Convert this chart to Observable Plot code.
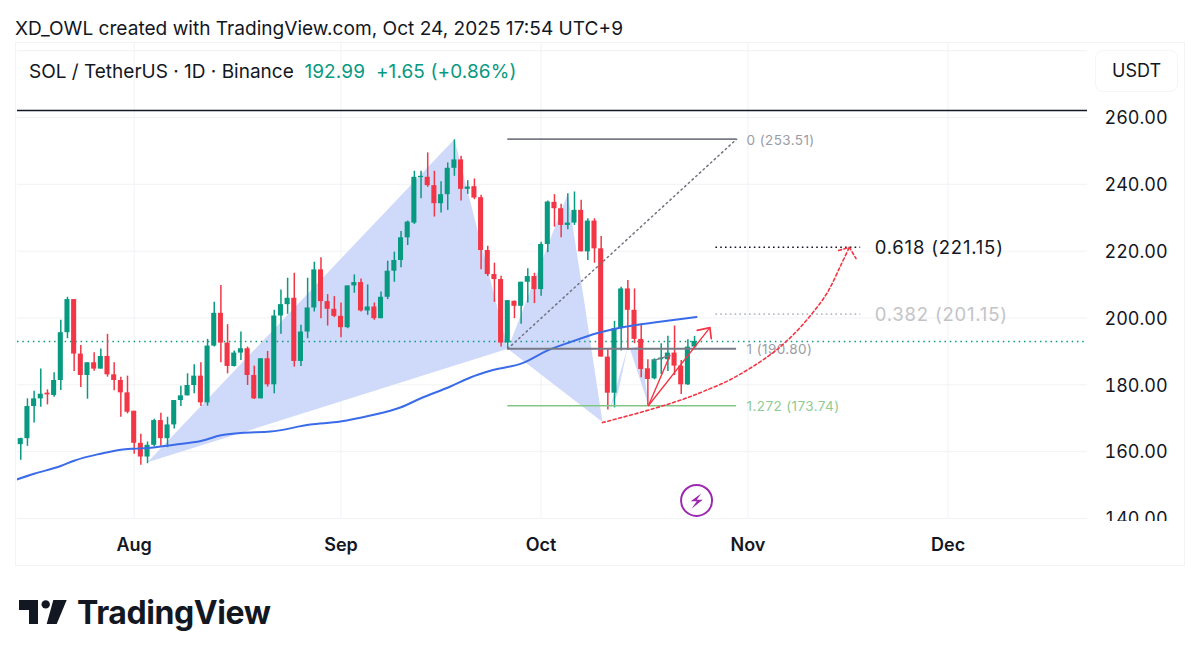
<!DOCTYPE html>
<html><head><meta charset="utf-8">
<script src="https://cdn.jsdelivr.net/npm/d3@7"></script>
<script src="https://cdn.jsdelivr.net/npm/@observablehq/plot@0.6"></script>
<style>
html,body{margin:0;padding:0;background:#fff;overflow:hidden}
#page{position:relative;width:1200px;height:661px;font-family:Inter,sans-serif;color:#131722}
#page>*{position:absolute}
#title{left:15px;top:16px;font-size:19.1px;line-height:24px;white-space:nowrap}
#frame{left:15px;top:42px;width:1168px;height:522px;border:1px solid #f3f4f6}
#chart{left:0;top:42px}
#legend{left:29px;top:60px;font-size:19px;line-height:24px;white-space:nowrap}
#legend span{color:#089981;letter-spacing:.1px}
#usdt{left:1095px;top:50px;width:81px;height:40px;line-height:40px;text-align:center;font-size:18px;border:1px solid #f5f6f8;border-radius:8px;background:#fff}
#mask{left:1090px;top:521px;width:92px;height:12px;background:#fff}
#brand{left:77px;top:592px;font-size:32px;font-weight:700;line-height:42px;letter-spacing:-.42px;white-space:nowrap}
#logo{left:19px;top:600px}
</style></head><body>
<div id="page">
  <div id="frame"></div>
  <div id="chart"></div>
  <div id="mask"></div>
  <div id="title">XD_OWL created with TradingView.com, Oct 24, 2025 17:54 UTC+9</div>
  <div id="legend">SOL / TetherUS · 1D · Binance &nbsp;<span>192.99 &nbsp;+1.65 (+0.86%)</span></div>
  <div id="usdt">USDT</div>
  <svg id="logo" width="48" height="24" viewBox="0 0 48 24"><path fill="#131722" d="M0 0H19V24H10V10H0Z"/><circle cx="26.7" cy="4.4" r="4.2" fill="#131722"/><path fill="#131722" d="M34.3 0H47.7L37.7 24H27.7Z"/></svg>
  <div id="brand">TradingView</div>
</div>
<script>
// Daily candles from Jul 15 2025 to Oct 24 2025
const opens=[162.1,163.9,173.5,175.8,177.5,176.8,181.3,195.6,205.5,189.2,182.8,186.6,184.7,188.5,183.0,181.3,177.6,172.1,162.5,158.4,161.9,169.3,163.9,168.0,175.3,176.7,179.8,182.6,174.6,191.6,201.4,192.5,185.5,189.5,190.8,182.8,175.8,187.8,180.0,200.6,204.0,205.9,187.0,195.8,203.0,214.4,204.9,202.6,200.5,197.1,209.6,210.6,202.1,203.3,199.8,206.2,214.0,217.2,224.0,228.4,242.0,242.1,239.6,234.2,236.9,244.8,247.3,238.5,239.3,236.0,220.2,213.0,211.5,192.5,205.0,203.5,210.7,212.4,208.5,222.0,234.6,232.7,227.7,228.4,232.2,219.8,229.0,220.7,188.3,177.5,196.8,208.7,202.3,193.6,184.8,181.8,187.5,187.5,189.5,185.6,180.0,191.3];
const highs=[164.0,175.8,178.1,184.7,178.5,183.6,199.3,206.2,205.5,191.8,186.6,189.6,190.7,195.1,186.6,182.3,182.6,172.1,165.2,162.9,169.7,171.5,170.3,175.3,179.6,183.3,186.0,186.6,193.6,204.7,209.7,198.0,190.1,195.8,191.3,185.6,187.8,190.0,202.3,208.4,211.9,213.4,197.8,211.9,216.7,218.0,207.0,206.4,204.5,209.6,212.9,211.7,209.9,204.5,207.8,217.0,219.7,225.9,229.0,243.9,243.9,249.4,243.9,240.8,246.4,253.3,248.4,241.1,241.6,236.7,221.5,216.4,212.5,205.2,205.1,210.7,214.7,213.4,222.7,235.0,236.9,234.0,237.2,237.7,235.2,229.7,229.7,224.4,190.8,199.0,209.2,211.2,208.7,198.1,187.5,187.8,192.3,194.5,197.6,187.3,193.5,194.5];
const lows=[157.4,161.6,168.6,173.3,174.0,176.3,178.3,193.8,184.0,179.2,175.7,184.1,184.7,182.3,178.2,170.3,171.3,159.2,155.9,156.4,161.4,161.6,161.2,166.8,173.5,176.7,177.3,173.5,173.6,191.3,186.6,183.3,185.3,187.3,179.8,175.6,175.8,179.3,177.3,195.1,201.1,185.3,185.5,193.8,201.8,199.8,197.6,200.1,194.1,196.8,207.4,201.8,200.8,199.3,199.8,205.5,210.7,215.0,221.7,228.0,235.7,239.1,230.2,231.4,232.2,242.4,235.0,237.0,235.4,214.4,212.4,204.7,191.3,190.5,199.8,198.1,204.5,204.3,206.5,219.5,227.2,224.0,226.4,227.7,219.8,217.2,216.4,188.3,172.5,173.1,190.1,190.3,192.3,182.1,173.8,181.5,183.1,184.0,182.8,177.1,179.8,190.5];
const closes=[163.9,173.5,175.8,177.2,177.0,181.3,195.6,205.5,189.2,182.8,186.6,184.7,188.5,183.0,181.3,177.6,171.8,162.5,158.4,161.9,169.3,163.9,168.0,175.3,176.7,179.8,182.6,174.6,191.6,201.4,192.5,185.5,189.5,190.8,182.8,175.8,187.8,180.0,200.6,204.0,205.9,187.0,195.8,203.0,214.4,204.9,202.6,200.5,197.1,209.6,210.6,202.1,203.3,199.8,206.2,214.0,217.2,224.0,228.7,242.1,242.4,239.6,234.2,236.9,244.8,247.3,238.5,239.2,235.9,220.2,213.0,211.5,192.5,205.2,203.5,210.7,212.4,208.5,222.0,234.7,232.7,227.7,228.4,232.2,219.8,229.0,220.7,188.3,177.5,196.8,208.7,202.3,193.6,184.6,181.6,187.5,188.0,189.5,185.6,180.0,191.3,192.99];

// Moving average (day index from Jul 15, value)
const maDays=[-1,2,6,8,12,15,17,19,23,27,30,33,37.4,43.4,47.9,52.4,56.9,59.9,64.4,67.4,70.4,75.2,79,82.4,86.5,90.4,95.5,101.3];
const maValues=[151.4,153.4,155.7,157.3,159.4,160.6,160.9,161.1,162.1,163.2,164.9,165.6,166.0,168.1,169.0,170.8,173.2,175.9,179.5,182.2,184.2,186.5,190.3,192.8,195.5,197.3,198.8,200.3];

// Harmonic pattern fills: [day index, price]
const patternXAB=[[19,156.8],[65,253.51],[73,190.8]];
const patternBCD=[[73,190.8],[82,237.2],[87.2,168.9]];
const wedgeLeft=[[88.3,172.9],[91,191.5],[89.5,177.4]];
const wedgeRight=[[91.3,190.9],[92.9,191.8],[94.1,173.8]];

// Drawings
const fibLevels=[
 {name:"0 (253.51)",price:253.51,color:"#787B86",lab:"#9a9da6",w:1.7},
 {name:"1 (190.80)",price:190.8,color:"#787B86",lab:"#9a9da6",w:1.9},
 {name:"1.272 (173.74)",price:173.74,color:"#81C784",lab:"#8fcb92",w:1.5}];
const extLevels=[
 {name:"0.618 (221.15)",price:221.15,color:"#131722",lab:"#131722"},
 {name:"0.382 (201.15)",price:201.15,color:"#b8bac0",lab:"#c3c4c8"}];
const fibDiagonal=[[73,190.8],[107.3,253.51]];
const curvePath=[[87.2,168.7],[94.9,172.9],[100.4,176.5],[102.4,178.1],[106.4,181.6],[112,188.5],[115.4,194.2],[118.4,200.8],[120.9,207.6],[122.9,215.7],[124.2,221.15]];
const curveHead=[[122.6,220.2],[124.2,221.15],[125.2,217.8]];
const redRay1=[[94.1,173.8],[97.3,188.8]];
const redRay2=[[94.1,173.8],[103.3,197.1]];
const redHead=[[101.4,196.3],[103.3,197.1],[103.5,193.8]];
const graySeg=[[94.9,187.3],[97.3,188.8]];
const topLine=262.1, lastPrice=192.99;
const boltAt=[[101.3,145.4]];

const gridTicks=[140,160,180,200,220,240,260,280];
const priceTicks=[140,160,180,200,220,240,260];
const monthTicks=[[2025,7],[2025,8],[2025,9],[2025,10],[2025,11]].map(([y,m])=>new Date(Date.UTC(y,m,1)));

const day=i=>new Date(Date.UTC(2025,6,15)+i*864e5);
const GREEN="#089981",RED="#F23645",GRID="#f1f2f5",PURPLE="#9C27B0";
const candles=opens.map((o,i)=>({date:day(i),x1:day(i-0.38),x2:day(i+0.38),open:o,high:highs[i],low:lows[i],close:closes[i],color:closes[i]>=o?GREEN:RED}));
const ma=maDays.map((d,i)=>({date:day(d),v:maValues[i]}));
const pts=a=>a.map(([d,v])=>({date:day(d),v}));
const seg=(a,o)=>Plot.line(pts(a),{x:"date",y:"v",...o});
const fill=a=>seg(a,{fill:"#cfdafb",stroke:"none"});
const bolt={draw(c,size){const s=Math.sqrt(size/Math.PI)/10;
  [[4.6,-7],[-5.8,.8],[.2,.8],[-5,8.4],[6.2,-.8],[.2,-.8]].forEach(([x,y],i)=>i?c.lineTo(x*s,y*s):c.moveTo(x*s,y*s));c.closePath();}};

const chart=Plot.plot({
  width:1200,height:522,
  marginLeft:17,marginRight:113,marginTop:0,marginBottom:46,
  style:{fontFamily:"Inter,sans-serif",color:"#131722",background:"transparent",overflow:"visible"},
  x:{type:"utc",domain:[day(-0.49),day(159.9)],label:null},
  y:{type:"linear",domain:[140,282.44],label:null},
  color:{type:"identity"},
  marks:[
    Plot.ruleY(gridTicks,{stroke:GRID,strokeWidth:1}),
    Plot.ruleX(monthTicks,{stroke:GRID,strokeWidth:1}),
    fill(patternXAB),fill(patternBCD),fill(wedgeLeft),fill(wedgeRight),
    Plot.ruleY([lastPrice],{stroke:"#0a9a80",strokeWidth:1.5,strokeDasharray:"1.5 3.8"}),
    Plot.ruleX(candles,{x:"date",y1:"low",y2:"high",stroke:"color",strokeWidth:1.5}),
    Plot.rect(candles,{x1:"x1",x2:"x2",y1:"open",y2:"close",fill:"color"}),
    Plot.line(ma,{x:"date",y:"v",stroke:"#3A6BE8",strokeWidth:2,curve:"monotone-x",clip:true}),
    Plot.ruleY([topLine],{stroke:"#131722",strokeWidth:1.5}),
    Plot.ruleY(fibLevels,{y:"price",x1:day(73),x2:day(107.3),stroke:"color",strokeWidth:"w"}),
    seg(fibDiagonal,{stroke:"#70737e",strokeWidth:1.5,strokeDasharray:"1.5 3.5"}),
    Plot.text(fibLevels,{x:day(108.8),y:"price",text:"name",fill:"lab",textAnchor:"start",fontSize:13.5,dy:1}),
    Plot.ruleY(extLevels,{y:"price",x1:day(104.2),x2:day(125.9),stroke:"color",strokeWidth:1.6,strokeDasharray:"1.6 3.2"}),
    Plot.text(extLevels,{x:day(128),y:"price",text:"name",fill:"lab",textAnchor:"start",fontSize:18.5,dy:1}),
    seg(graySeg,{stroke:"#787B86",strokeWidth:1.2}),
    seg(redRay1,{stroke:RED,strokeWidth:1.4}),
    seg(redRay2,{stroke:RED,strokeWidth:1.4}),
    seg(redHead,{stroke:RED,strokeWidth:1.7}),
    seg(curvePath,{stroke:RED,strokeWidth:1.6,strokeDasharray:"3 2.6",curve:"catmull-rom"}),
    seg(curveHead,{stroke:RED,strokeWidth:1.6,strokeDasharray:"3 2.5"}),
    Plot.dot(pts(boltAt),{x:"date",y:"v",r:15.5,stroke:PURPLE,strokeWidth:2,fill:"none"}),
    Plot.dot(pts(boltAt),{x:"date",y:"v",r:10,symbol:bolt,fill:PURPLE,stroke:"none"}),
    Plot.axisY(priceTicks,{anchor:"right",tickSize:0,tickPadding:17,tickFormat:d3.format(".2f"),fontSize:18,dy:1,label:null}),
    Plot.axisX(monthTicks,{anchor:"bottom",tickSize:0,tickPadding:20,tickFormat:d3.utcFormat("%b"),fontSize:18,fontWeight:600,label:null})
  ]
});
chart.querySelectorAll('g[font-size="18.5"]').forEach(g=>g.style.letterSpacing="0.8px");
chart.querySelectorAll('g[font-size="13.5"]').forEach(g=>g.style.letterSpacing="0.4px");
document.getElementById("chart").appendChild(chart);
</script>
</body></html>
